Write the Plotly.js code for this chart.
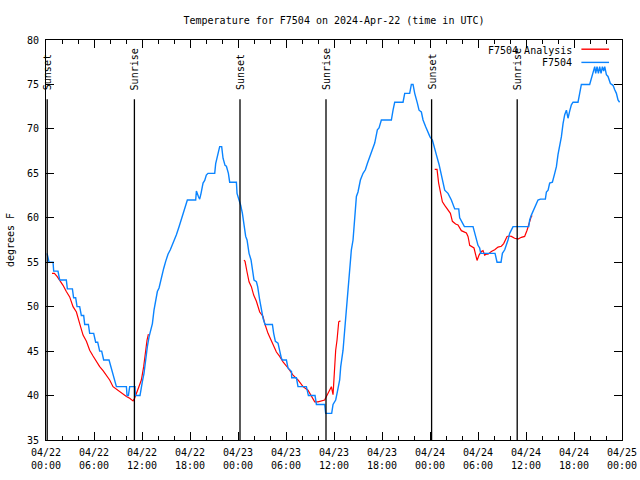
<!DOCTYPE html>
<html>
<head>
<meta charset="utf-8">
<script src="https://cdn.plot.ly/plotly-3.0.1.min.js"></script>
<style>html,body{margin:0;padding:0;background:#fff;}#chart{width:640px;height:480px;}</style>
</head>
<body>
<div id="chart"></div>
<script>
// ---- data (hours after 2024-04-22 00:00 UTC, temperature in deg F) ----
const analysisHours = [
  0.75,1.05,1.38,1.71,2.13,2.54,2.96,3.38,3.8,4.21,4.63,5.05,5.46,5.88,6.3,6.71,7.13,7.54,7.96,8.38,8.8,9.21,9.63,10.05,10.46,10.88,11.08,11.3,11.59,11.92,12.21,12.46,12.63,12.8,
  null,
  24.75,24.88,25.13,25.38,25.67,25.96,26.3,26.71,27.13,27.34,27.75,28.17,28.8,29.21,29.63,30.25,30.88,31.5,32.13,32.75,33.17,33.59,34.0,34.42,34.83,35.05,35.34,35.67,35.88,36.0,36.21,36.38,36.59,36.8,
  null,
  48.59,48.88,49.08,49.3,49.55,49.84,50.25,50.55,50.8,51.2,51.5,51.71,51.92,52.55,52.75,52.84,52.96,53.5,53.67,53.88,54.13,54.42,54.63,54.83,55.05,55.25,55.67,56.09,56.5,56.92,57.21,57.46,57.63,57.88,58.17,58.58,59.0,59.42,59.83,60.13,60.38,60.67,60.8
];
const analysisTemps = [
  53.75,53.75,53.4,53,52.4,51.7,51.1,50,49.4,48.1,46.8,46.1,45.1,44.45,43.8,43.25,42.8,42.3,41.75,41,40.7,40.4,40.1,39.9,39.7,39.4,39.7,40.2,40.8,41.75,43.25,45.1,46.25,46.9,
  null,
  55.25,55.1,53.9,52.8,52.25,51.3,50.6,49.4,48.9,48.1,47,46.1,44.9,44.4,43.8,43.1,42.3,41.75,41,40.6,39.9,39.3,39.3,39.4,39.5,39.9,40.4,41,40.1,42.1,45.1,46.25,48.3,48.4,
  null,
  65.45,65.45,63.9,62.75,61.8,61.4,60.9,60.5,59.6,59.3,59.2,58.8,58.55,58.3,57.9,57.5,56.9,56.6,56,55.2,55.8,56.2,56.3,55.8,55.9,55.9,56.2,56.4,56.7,56.8,57.1,57.5,57.9,57.95,57.9,57.7,57.6,57.8,57.9,58.6,59.45,60.2,60.2
];
const stationHours = [
  0.13,0.38,0.88,0.96,1.5,1.71,2.54,2.67,3.3,3.45,3.71,3.88,4.21,4.42,4.71,4.84,5.3,5.46,5.96,6.21,6.46,6.71,6.96,7.21,7.88,8.17,8.42,8.8,10.05,10.13,10.3,10.46,11.13,11.17,11.75,
  11.84,12.05,12.25,12.46,12.67,12.88,13.09,13.3,13.5,13.71,13.92,14.13,14.42,14.71,14.96,15.25,15.54,15.88,16.09,16.3,16.63,16.92,17.2,17.42,17.67,18.71,18.8,19.05,19.21,19.38,19.63,19.84,20.04,20.25,21.09,21.21,21.46,21.71,21.96,22.13,22.38,22.55,22.8,22.96,23.8,23.88,
  24.13,24.34,24.55,24.75,24.96,25.13,25.38,25.63,25.8,26.0,26.3,26.46,26.71,26.92,27.13,27.38,28.3,28.46,28.67,29.0,29.21,29.42,29.55,30.05,30.25,30.69,30.71,31.3,31.5,32.55,32.8,33.63,33.8,34.84,34.96,35.71,35.88,
  36.21,36.38,36.71,36.84,37.13,37.34,37.55,37.75,37.96,38.17,38.38,38.59,38.8,39.0,39.3,39.63,39.92,40.17,40.46,40.8,41.09,41.42,41.63,41.92,43.17,43.38,43.59,44.63,44.84,45.46,45.67,45.88,46.09,46.42,46.63,46.92,47.13,47.46,47.75,
  48.0,48.3,48.5,48.79,49.13,49.38,49.63,49.84,50.25,50.67,51.09,51.59,51.71,52.3,53.38,53.59,53.8,54.0,54.21,54.34,56.13,56.21,56.38,56.88,57.05,57.34,57.55,57.75,57.96,58.38,60.34,60.46,60.67,61.09,61.5,61.8,62.42,62.55,62.76,62.96,
  63.3,63.59,63.8,64.0,64.21,64.42,64.63,64.84,65.05,65.25,65.46,65.67,65.88,66.5,66.71,66.92,67.96,68.17,68.38,68.59,68.71,68.88,69.05,69.21,69.38,69.55,69.71,69.84,70.05,70.25,70.55,70.88,71.09,71.3,71.5,71.7
];
const stationTemps = [
  56,55,55,54,54,53,53,52,52,51,51,50,50,49,49,48,48,47,47,46,46,45,45,44,44,43,42,41,41,40,40,41,41,40,40,
  40.6,41.6,42.5,44.4,45.5,46.6,47.4,48.1,49.6,50.6,51.7,52.1,53.4,54.3,55.1,55.9,56.4,57.1,57.5,58.1,59,59.9,60.7,61.25,62,62,63,62.4,62.1,62.75,63.9,64.2,64.8,65,65,66.1,67.1,68,68,66.7,65.9,65.8,65,64,64,62.75,
  62,61.4,60.5,59.4,57.9,57.5,56,55.25,54.1,53,52.8,52.25,50.75,49.6,48.7,48,48,47,46.1,45.9,44.9,44.2,44,44,43.1,42.7,42,42,41,41,40,40,39,39,38,38,39,
  39.5,40.25,41.75,43.25,45.1,47.4,49.6,52.25,54.1,56.4,57.5,60.5,62.4,62.9,64.25,65,65.4,66.1,66.9,67.8,68.4,69.9,70.1,71,71,72.1,73,73,74,74,75,75,74,72.9,72.1,71.9,71,70.25,69.5,
  69.1,68.75,68,67.1,66,65,64.1,63.1,62.75,62,61,61,60,59,59,58.25,57.5,56.9,56.6,56,56,55.6,55,55,56,56.4,56.9,57.5,58.25,59,59,59.75,60.3,61.1,62,62.1,62.1,62.9,63.1,63.9,
  64,65,65.75,67.1,68,69.1,70.6,71.6,72.1,71.2,72,72.7,73,73,74,75,75,75.7,76.25,77,76.25,77,76.25,77,76.25,77,76.5,77,76.1,75.9,75.1,74.9,74.4,74,73.25,73
];
const sunEventHours = [0.15, 11.05, 24.25, 35.0, 48.2, 58.9];
const sunEventLabels = ['Sunset', 'Sunrise', 'Sunset', 'Sunrise', 'Sunset', 'Sunrise'];
const tickHours = [0,6,12,18,24,30,36,42,48,54,60,66,72];
const tickLabels = ['04/22<br>00:00','04/22<br>06:00','04/22<br>12:00','04/22<br>18:00',
                    '04/23<br>00:00','04/23<br>06:00','04/23<br>12:00','04/23<br>18:00',
                    '04/24<br>00:00','04/24<br>06:00','04/24<br>12:00','04/24<br>18:00',
                    '04/25<br>00:00'];
const seriesNames = ['F7504 Analysis', 'F7504'];
const seriesColors = ['#ff0000', '#0a84ff'];

// ---- helpers ----
const START = Date.UTC(2024, 3, 22, 0, 0, 0);
function pad(n){ return (n < 10 ? '0' : '') + n; }
function toDate(h){
  if (h === null) return null;
  const d = new Date(START + Math.round(h * 3600000));
  return d.getUTCFullYear() + '-' + pad(d.getUTCMonth()+1) + '-' + pad(d.getUTCDate()) + ' ' +
         pad(d.getUTCHours()) + ':' + pad(d.getUTCMinutes()) + ':' + pad(d.getUTCSeconds());
}

const FONT = 'DejaVu Sans Mono, monospace';

const traces = [
  { type: 'scatter', mode: 'lines', name: seriesNames[0],
    x: analysisHours.map(toDate), y: analysisTemps,
    line: { color: seriesColors[0], width: 1.2 }, connectgaps: false, showlegend: false },
  { type: 'scatter', mode: 'lines', name: seriesNames[1],
    x: stationHours.map(toDate), y: stationTemps,
    line: { color: seriesColors[1], width: 1.4 }, showlegend: false }
];

const shapes = [];
const annotations = [];
sunEventHours.forEach((h, i) => {
  shapes.push({ type: 'line', xref: 'x', yref: 'paper', x0: toDate(h), x1: toDate(h), y0: 0, y1: 0.852,
                line: { color: '#000', width: 1.3 } });
  annotations.push({ xref: 'x', yref: 'paper', x: toDate(h), y: 0.87, yanchor: 'bottom', xanchor: 'center',
                     text: sunEventLabels[i], textangle: -90, showarrow: false,
                     font: { family: FONT, size: 10, color: '#000' } });
});
// legend (text right-aligned, sample line to the right, as in the reference)
const legendY = [0.975, 0.943];
const legendLineY = [0.977, 0.944];
seriesNames.forEach((name, i) => {
  annotations.push({ xref: 'paper', yref: 'paper', x: 0.916, y: legendY[i], xanchor: 'right', yanchor: 'middle',
                     text: name, showarrow: false, font: { family: FONT, size: 10, color: '#000' } });
  shapes.push({ type: 'line', xref: 'paper', yref: 'paper', x0: 0.9295, x1: 0.9775,
                y0: legendLineY[i], y1: legendLineY[i], line: { color: seriesColors[i], width: 1.4 } });
});

const layout = {
  width: 640, height: 480,
  margin: { l: 46, r: 18, t: 40, b: 40, pad: 0 },
  paper_bgcolor: '#fff', plot_bgcolor: '#fff',
  font: { family: FONT, size: 10, color: '#000' },
  showlegend: false,
  title: { text: 'Temperature for F7504 on 2024-Apr-22 (time in UTC)', x: 0.5, xref: 'paper', xanchor: 'center',
           y: 0.957, yref: 'container', yanchor: 'middle', font: { family: FONT, size: 10, color: '#000' } },
  xaxis: {
    type: 'date', range: [toDate(0), toDate(72)],
    tickmode: 'array', tickvals: tickHours.map(toDate), ticktext: tickLabels, tickangle: 0,
    ticks: 'inside', ticklen: 8, tickwidth: 1, tickcolor: '#000',
    minor: { ticks: 'inside', ticklen: 4, tickwidth: 1, tickcolor: '#000', dtick: 2 * 3600000, tick0: toDate(0), showgrid: false },
    showline: true, linecolor: '#000', linewidth: 1, mirror: 'allticks',
    showgrid: false, zeroline: false, fixedrange: true,
    ticklabelstandoff: 3,
    tickfont: { family: FONT, size: 10, color: '#000' }
  },
  yaxis: {
    range: [35, 80], tick0: 35, dtick: 5,
    ticks: 'inside', ticklen: 8, tickwidth: 1, tickcolor: '#000',
    showline: true, linecolor: '#000', linewidth: 1, mirror: 'allticks',
    showgrid: false, zeroline: false, fixedrange: true,
    ticklabelstandoff: 4,
    tickfont: { family: FONT, size: 10, color: '#000' },
    title: { text: 'degrees F', standoff: 10, font: { family: FONT, size: 10, color: '#000' } }
  },
  shapes: shapes,
  annotations: annotations
};

Plotly.newPlot('chart', traces, layout, { displayModeBar: false, staticPlot: true });
</script>
</body>
</html>
